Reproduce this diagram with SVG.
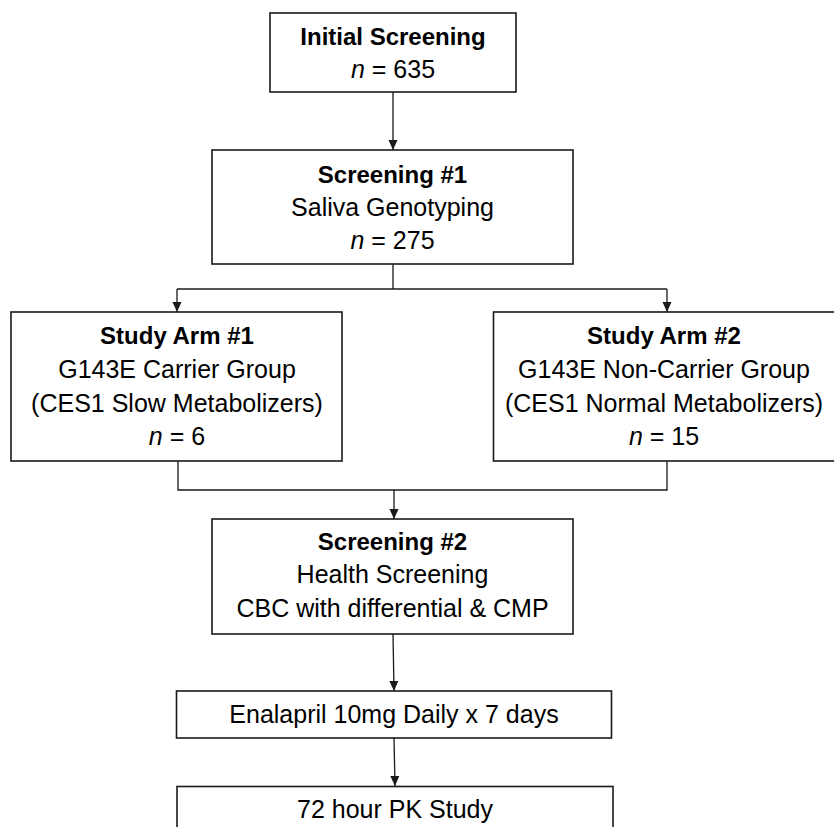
<svg xmlns="http://www.w3.org/2000/svg" width="834" height="827" viewBox="0 0 834 827">
<defs>
<style>
.box{fill:#fff;stroke:#1a1a1a;stroke-width:1.6}
.t{font-family:"Liberation Sans",Arial,sans-serif;font-size:25px;fill:#000;text-anchor:middle}
.b{font-weight:bold;font-size:24px}
.i{font-style:italic}
.c{fill:none;stroke:#1a1a1a;stroke-width:1.3}
</style>
<marker id="arr" viewBox="0 0 10 10" refX="10" refY="5" markerWidth="10" markerHeight="10" markerUnits="userSpaceOnUse" orient="auto">
<path d="M0,0.5 L10,5 L0,9.5 Z" fill="#1a1a1a"/>
</marker>
</defs>
<rect width="834" height="827" fill="#fff"/>
<g id="connectors">
<line class="c" x1="393" y1="92" x2="393" y2="150" marker-end="url(#arr)"/>
<polyline class="c" points="393,264 393,289"/>
<line class="c" x1="177" y1="289" x2="667" y2="289"/>
<line class="c" x1="177" y1="289" x2="177" y2="312" marker-end="url(#arr)"/>
<line class="c" x1="667" y1="289" x2="667" y2="312" marker-end="url(#arr)"/>
<polyline class="c" points="178,461 178,490 667,490 667,461"/>
<line class="c" x1="394" y1="490" x2="394" y2="519" marker-end="url(#arr)"/>
<line class="c" x1="393" y1="634" x2="394" y2="691" marker-end="url(#arr)"/>
<line class="c" x1="394" y1="738" x2="395" y2="786" marker-end="url(#arr)"/>
</g>
<g id="initial">
<rect class="box" x="270" y="13" width="246" height="79"/>
<text class="t b" x="393" y="45">Initial Screening</text>
<text class="t" x="393" y="78"><tspan class="i">n</tspan> = 635</text>
</g>
<g id="screening1">
<rect class="box" x="212" y="150" width="361" height="114"/>
<text class="t b" x="392.5" y="183">Screening #1</text>
<text class="t" x="392.5" y="216">Saliva Genotyping</text>
<text class="t" x="392.5" y="249"><tspan class="i">n</tspan> = 275</text>
</g>
<g id="arm1">
<rect class="box" x="11" y="312" width="331" height="149"/>
<text class="t b" x="177" y="344">Study Arm #1</text>
<text class="t" x="177" y="378">G143E Carrier Group</text>
<text class="t" x="177" y="411.5">(CES1 Slow Metabolizers)</text>
<text class="t" x="177" y="445"><tspan class="i">n</tspan> = 6</text>
</g>
<g id="arm2">
<rect class="box" x="493.5" y="312" width="345" height="149"/>
<text class="t b" x="664" y="344">Study Arm #2</text>
<text class="t" x="664" y="378">G143E Non-Carrier Group</text>
<text class="t" x="664" y="411.5">(CES1 Normal Metabolizers)</text>
<text class="t" x="664" y="445"><tspan class="i">n</tspan> = 15</text>
</g>
<g id="screening2">
<rect class="box" x="212" y="519" width="361" height="115"/>
<text class="t b" x="392.5" y="550">Screening #2</text>
<text class="t" x="392.5" y="583">Health Screening</text>
<text class="t" x="392.5" y="617">CBC with differential &amp; CMP</text>
</g>
<g id="enalapril">
<rect class="box" x="176.5" y="691" width="435" height="47"/>
<text class="t" x="394" y="723">Enalapril 10mg Daily x 7 days</text>
</g>
<g id="pk">
<rect class="box" x="177" y="786.5" width="436" height="60"/>
<text class="t" x="395" y="818">72 hour PK Study</text>
</g>
</svg>
